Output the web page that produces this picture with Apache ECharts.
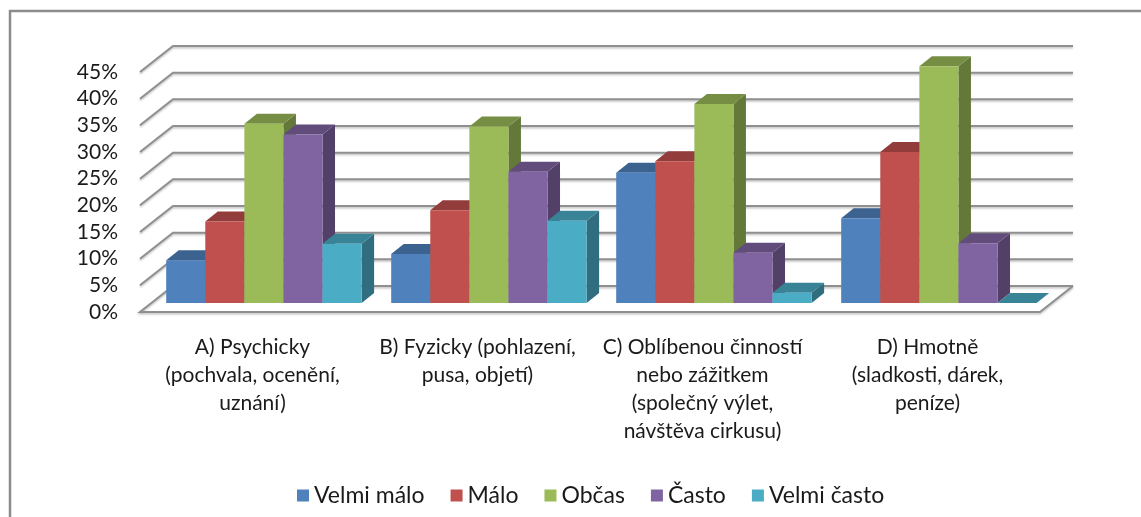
<!DOCTYPE html>
<html>
<head>
<meta charset="utf-8">
<script src="https://cdn.jsdelivr.net/npm/echarts@6/dist/echarts.min.js"></script>
<style>
  html, body { margin: 0; padding: 0; background: #fff; }
  #chart { width: 1141px; height: 517px; }
</style>
</head>
<body>
<div id="chart"></div>
<script>
const categories = [
  'A) Psychicky\n(pochvala, ocenění,\nuznání)',
  'B) Fyzicky (pohlazení,\npusa, objetí)',
  'C) Oblíbenou činností\nnebo zážitkem\n(společný výlet,\nnávštěva cirkusu)',
  'D) Hmotně\n(sladkosti, dárek,\npeníze)'
]
const seriesNames = ['Velmi málo', 'Málo', 'Občas', 'Často', 'Velmi často']
const velmiMalo = [8.0, 9.2, 24.4, 15.9]
const malo = [15.3, 17.4, 26.6, 28.3]
const obcas = [33.6, 33.1, 37.3, 44.4]
const casto = [31.6, 24.6, 9.4, 11.2]
const velmiCasto = [11.1, 15.4, 1.9, 0]
const yTicks = [0, 5, 10, 15, 20, 25, 30, 35, 40, 45]

const colors = ['#4F81BD', '#C0504D', '#9BBB59', '#8064A2', '#4BACC6']
const allValues = [velmiMalo, malo, obcas, casto, velmiCasto]

// depth of the floor and of each bar, in pixels
const WALL_DEPTH = [33, -26]
const BAR_DEPTH = [12.5, -10]
const BAR_W = 0.1737 // bar width as a share of one category

function shade(hex, k) {
  const n = parseInt(hex.slice(1), 16)
  const r = Math.round(((n >> 16) & 255) * k)
  const g = Math.round(((n >> 8) & 255) * k)
  const b = Math.round((n & 255) * k)
  return 'rgb(' + r + ',' + g + ',' + b + ')'
}

function wallItem(params, api) {
  const v = api.value(0)
  const fl = api.coord([-0.5, v])
  const fr = api.coord([3.5, v])
  const bl = [fl[0] + WALL_DEPTH[0], fl[1] + WALL_DEPTH[1]]
  const br = [fr[0] + WALL_DEPTH[0], fr[1] + WALL_DEPTH[1]]
  const pts = v === 0 ? [br, bl, fl, fr, br] : [fl, bl, br]
  const lineStyle = {
    stroke: '#8f8f8f', lineWidth: 2, fill: null,
    shadowColor: 'rgba(0,0,0,0.25)', shadowBlur: 2, shadowOffsetY: 1.5
  }
  return { type: 'polyline', shape: { points: pts }, style: lineStyle, silent: true }
}

function makeBarSeries(i) {
  const color = colors[i]
  return {
    name: seriesNames[i],
    type: 'custom',
    xAxisIndex: 1,
    yAxisIndex: 1,
    z: 5,
    itemStyle: { color: color },
    data: allValues[i].map((v, j) => [j, v]),
    renderItem: function (params, api) {
      const j = api.value(0)
      const v = api.value(1)
      const left = j - 2.5 * BAR_W + i * BAR_W
      const right = left + BAR_W
      const bl = api.coord([left, 0])
      const br = api.coord([right, 0])
      const tl = api.coord([left, v])
      const tr = api.coord([right, v])
      const d = BAR_DEPTH
      const tlb = [tl[0] + d[0], tl[1] + d[1]]
      const trb = [tr[0] + d[0], tr[1] + d[1]]
      const brb = [br[0] + d[0], br[1] + d[1]]
      return {
        type: 'group',
        children: [
          { type: 'polygon', shape: { points: [tr, br, brb, trb] }, style: { fill: shade(color, 0.64) } },
          { type: 'polygon', shape: { points: [tl, tr, trb, tlb] }, style: { fill: shade(color, 0.76) } },
          { type: 'polygon', shape: { points: [bl, br, tr, tl] }, style: { fill: color } }
        ]
      }
    }
  }
}

const chart = echarts.init(document.getElementById('chart'))

const option = {
  animation: false,
  textStyle: { fontFamily: 'Lato' },
  graphic: [{
    type: 'polyline',
    shape: { points: [[10, 517], [10, 11], [1141, 11]] },
    style: { stroke: '#8c8c8c', lineWidth: 2.5, fill: null },
    silent: true
  }],
  legend: {
    left: 292,
    top: 479,
    itemWidth: 12,
    itemHeight: 12,
    itemGap: 26,
    icon: 'rect',
    textStyle: { fontSize: 23, color: '#1a1a1a', fontFamily: 'Lato' },
    data: seriesNames
  },
  grid: [
    // front edge of the floor
    { left: 140, right: 101, top: 72, bottom: 205 },
    // plane of the bar front faces
    { left: 151.4, right: 89.6, top: 63, bottom: 214 }
  ],
  xAxis: [
    {
      type: 'category',
      gridIndex: 0,
      data: categories,
      axisLine: { show: false },
      axisTick: { show: false },
      axisLabel: {
        interval: 0,
        margin: 21,
        fontSize: 21,
        lineHeight: 28,
        color: '#1a1a1a',
        fontFamily: 'Lato'
      }
    },
    { type: 'value', gridIndex: 1, min: -0.5, max: 3.5, show: false },
    { type: 'value', gridIndex: 0, min: -0.5, max: 3.5, show: false }
  ],
  yAxis: [
    {
      type: 'value',
      gridIndex: 0,
      min: 0,
      max: 45,
      interval: 5,
      axisLine: { show: false },
      axisTick: { show: false },
      splitLine: { show: false },
      axisLabel: {
        formatter: '{value}%',
        margin: 22,
        fontSize: 21,
        color: '#1a1a1a',
        fontFamily: 'Lato'
      }
    },
    { type: 'value', gridIndex: 1, min: 0, max: 45, show: false }
  ],
  series: [
    {
      name: 'walls',
      type: 'custom',
      xAxisIndex: 2,
      yAxisIndex: 0,
      z: 1,
      silent: true,
      data: yTicks.map(v => [v]),
      encode: { y: 0 },
      renderItem: wallItem
    }
  ].concat(seriesNames.map((n, i) => makeBarSeries(i)))
}

chart.setOption(option)
</script>
</body>
</html>
